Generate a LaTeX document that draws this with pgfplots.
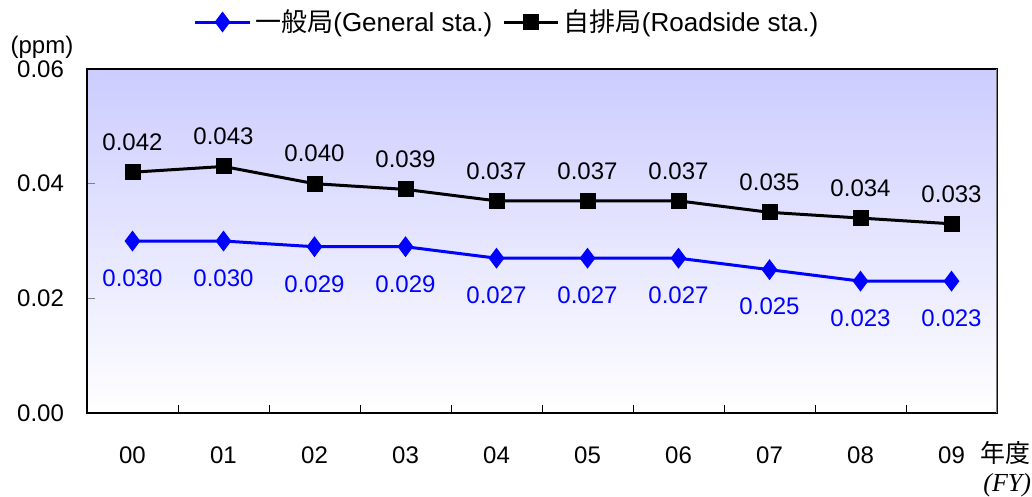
\documentclass[border=0pt]{standalone}
\usepackage{fontspec}
\setmainfont{Liberation Sans}
\newfontfamily\jp{Noto Sans CJK JP}
\newfontfamily\tms{Liberation Serif}
\usepackage{pgfplots}
\pgfplotsset{compat=1.18}
\definecolor{bgtop}{RGB}{204,204,255}
\begin{document}
\begin{tikzpicture}
\begin{axis}[
  at={(0,0)}, anchor=south west,
  scale only axis, width=455pt, height=172pt,
  xmin=-0.5, xmax=9.5, ymin=0, ymax=0.06,
  font=\fontsize{12}{14}\selectfont,
  /pgf/number format/assume math mode=true,
  axis background/.style={top color=bgtop, bottom color=white},
  xtick={0,1,2,3,4,5,6,7,8,9},
  xticklabels={00,01,02,03,04,05,06,07,08,09},
  minor xtick={0.5,1.5,2.5,3.5,4.5,5.5,6.5,7.5,8.5},
  major x tick style={draw=none},
  minor x tick style={black},
  minor tick length=4pt,
  major tick length=4pt,
  xtick pos=bottom, ytick pos=left,
  ytick={0,0.02,0.04,0.06},
  yticklabel style={/pgf/number format/.cd, fixed, fixed zerofill, precision=2, /tikz/.cd, xshift=-8pt},
  xticklabel style={yshift=-13.5pt},
  scaled y ticks=false,
  axis line style={black, line width=0.8pt},
  legend style={at={(0.4626,1.1366)}, anchor=center, draw=none, fill=none,
    font=\fontsize{13}{15}\selectfont, legend columns=2,
    /tikz/every even column/.append style={column sep=3pt}},
  legend image code/.code={\draw[mark repeat=2,mark phase=2] plot coordinates {(0cm,0cm) (0.48cm,0cm) (0.96cm,0cm)};},
  nodes near coords={\pgfmathprintnumber[fixed, fixed zerofill, precision=3, assume math mode=true]{\pgfplotspointmeta}},
  every node near coord/.append style={font=\fontsize{12}{14}\selectfont},
]
\addplot[blue, line width=1.5pt, mark=diamond*, mark size=4pt, mark options={fill=blue},
  every node near coord/.append style={anchor=center, yshift=-18.5pt, text=blue}]
  coordinates {(0,0.030) (1,0.030) (2,0.029) (3,0.029) (4,0.027) (5,0.027) (6,0.027) (7,0.025) (8,0.023) (9,0.023)};
\addlegendentry{{\jp 一般局}(General sta.)}
\addplot[black, line width=1.5pt, mark=square*, mark size=3.25pt, mark options={fill=black},
  every node near coord/.append style={anchor=center, yshift=15pt, text=black}]
  coordinates {(0,0.042) (1,0.043) (2,0.040) (3,0.039) (4,0.037) (5,0.037) (6,0.037) (7,0.035) (8,0.034) (9,0.033)};
\addlegendentry{{\jp 自排局}(Roadside sta.)}
\draw[gray, line width=0.8pt] (rel axis cs:1,0) -- (rel axis cs:1,1);
\end{axis}
\node[font=\fontsize{12}{14}\selectfont, anchor=center] at (-22.5pt,183pt) {(ppm)};
\node[font=\fontsize{12.5}{14}\selectfont\jp, anchor=west, inner sep=0pt] at (446.5pt,-20pt) {年度};
\node[font=\fontsize{13}{15}\selectfont\tms\itshape, anchor=west, inner sep=0pt] at (448pt,-36pt) {(FY)};
\pgfresetboundingbox
\path (-43.5pt,-42pt) rectangle (472.5pt,206.5pt);
\end{tikzpicture}
\end{document}
